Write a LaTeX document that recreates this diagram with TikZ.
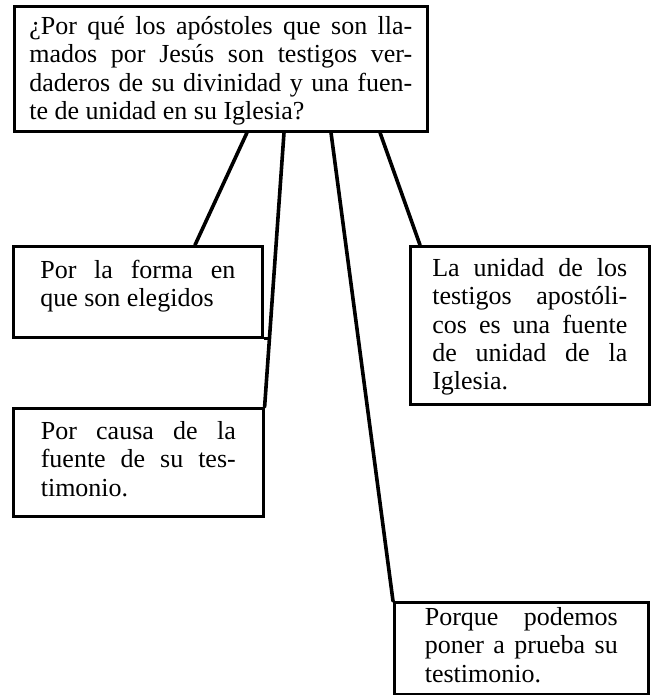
\documentclass[tikz,border=0pt]{standalone}
\usepackage{fontspec}
\setmainfont{Liberation Serif}
\usetikzlibrary{calc}
\sloppy

\begin{document}
\begin{tikzpicture}[x=1pt,y=-1pt,
  caja/.style={draw,line width=2.6pt,anchor=north west,inner ysep=0pt,align=justify,
    font=\fontsize{26}{28.4}\selectfont},
  linea/.style={line width=3.6pt,line cap=round}]
\useasboundingbox (0,0) rectangle (650,695);
\node[caja,text width=383pt,inner xsep=15pt,text height=28pt,text depth=97pt] (pregunta) at (13,5)
  {¿Por qué los apóstoles que son lla-\linebreak mados por Jesús son testigos ver-\linebreak daderos de su divinidad y una fuen-\linebreak te de unidad en su Iglesia?};
\node[caja,text width=195pt,inner xsep=27pt,text height=32pt,text depth=59pt] (forma) at (12,245)
  {Por la forma en\linebreak que son elegidos};
\node[caja,text width=195pt,inner xsep=27.5pt,text height=31pt,text depth=77pt] (causa) at (12,407)
  {Por causa de la\linebreak fuente de su tes-\linebreak timonio.};
\node[caja,text width=195pt,inner xsep=22pt,text height=30pt,text depth=128pt] (unidad) at (409,245)
  {La unidad de los\linebreak testigos apostóli-\linebreak cos es una fuente\linebreak de unidad de la\linebreak Iglesia.};
\node[caja,text width=193pt,inner xsep=30.5pt,text height=23pt,text depth=69pt] (prueba) at (393,601)
  {Porque podemos\linebreak poner a prueba su\linebreak testimonio.};
\draw[linea] ([xshift=234pt]pregunta.south west) -- ([xshift=183pt]forma.north west);
\draw[linea] ([xshift=271pt]pregunta.south west) -- (causa.north east);
\draw[linea] ([xshift=318pt]pregunta.south west) -- (prueba.north west);
\draw[linea] ([xshift=367pt]pregunta.south west) -- ([xshift=11pt]unidad.north west);
\draw[line width=2.6pt] (forma.south east) -- ++(7,0);
\end{tikzpicture}
\end{document}
